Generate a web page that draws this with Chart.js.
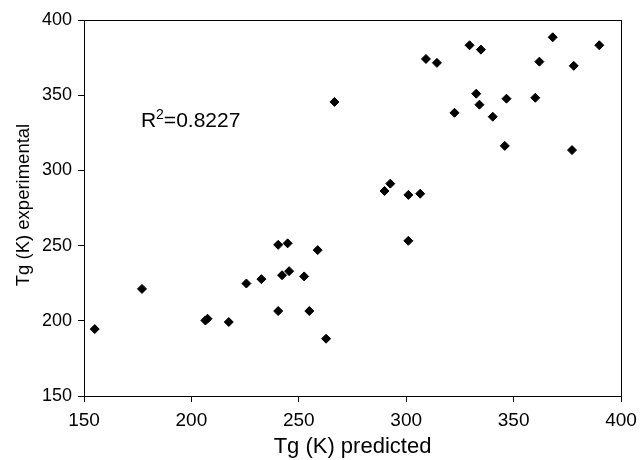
<!DOCTYPE html>
<html lang="en">
<head>
  <meta charset="UTF-8">
  <title>Tg predicted vs experimental</title>
  <script src="https://cdn.jsdelivr.net/npm/chart.js"></script>
  <style>
    html, body { margin: 0; padding: 0; background: #fff; }
    #wrap { width: 641px; height: 460px; }
  </style>
</head>
<body>
  <div id="wrap"><canvas id="grafico" width="641" height="460"></canvas></div>

  <script>
    // Tg (K) predicted
    const predicted = [
      155, 177, 206.5, 207.5, 217.4, 225.6, 232.6, 240.4, 244.8, 258.8,
      242.2, 245.5, 252.5, 240.4, 254.9, 262.7, 266.6, 368.2, 389.9, 329.5,
      334.8, 309.2, 314.3, 362.0, 378.0, 332.6, 334.1, 346.7, 360.1, 322.5,
      340.3, 345.9, 377.2, 292.6, 289.9, 301.0, 306.5, 301.0
    ];
    // Tg (K) experimental
    const experimental = [
      194.5, 221.2, 200.2, 201.4, 199.2, 224.8, 227.7, 250.5, 251.5, 247.0,
      230.3, 233.0, 229.5, 206.5, 206.5, 188.1, 345.5, 388.5, 383.2, 383.2,
      380.3, 374.1, 371.5, 372.3, 369.5, 351.0, 343.7, 347.7, 348.3, 338.3,
      335.7, 316.3, 313.5, 291.2, 286.3, 283.7, 284.5, 253.2
    ];
    const xTicks = [150, 200, 250, 300, 350, 400];
    const yTicks = [150, 200, 250, 300, 350, 400];
    const r2Text = '0.8227';
    const r2Pos = { x: 176.5, y: 329 };
    const yTitle = 'Tg (K) experimental';
    const yTitleMid = 277; // axis value at which the y title is centred

    const FONT = 'Arial, "Liberation Sans", sans-serif';

    const punti = predicted.map((x, i) => ({ x: x, y: experimental[i] }));

    // box round the plot area, y title, R² note
    const extras = {
      id: 'extras',
      afterDraw(chart) {
        const ctx = chart.ctx;
        const a = chart.chartArea;
        ctx.save();
        ctx.strokeStyle = '#000';
        ctx.lineWidth = 1;
        ctx.strokeRect(Math.round(a.left) + 0.5, Math.round(a.top) + 0.5,
          Math.round(a.right - a.left), Math.round(a.bottom - a.top));

        ctx.fillStyle = '#000';

        // y title (Excel put it a bit above the middle)
        ctx.save();
        ctx.translate(24, chart.scales.y.getPixelForValue(yTitleMid));
        ctx.rotate(-Math.PI / 2);
        ctx.font = '18.5px ' + FONT;
        ctx.textAlign = 'center';
        ctx.textBaseline = 'middle';
        ctx.fillText(yTitle, 0, 0);
        ctx.restore();

        const px = chart.scales.x.getPixelForValue(r2Pos.x);
        const py = chart.scales.y.getPixelForValue(r2Pos.y);
        ctx.textBaseline = 'alphabetic';
        ctx.textAlign = 'left';
        ctx.font = '21px ' + FONT;
        ctx.fillText('R', px, py);
        let w = ctx.measureText('R').width;
        ctx.font = '14px ' + FONT;
        ctx.fillText('2', px + w, py - 8);
        w += ctx.measureText('2').width;
        ctx.font = '21px ' + FONT;
        ctx.fillText('=' + r2Text, px + w, py);
        ctx.restore();
      }
    };

    new Chart(document.getElementById('grafico'), {
      type: 'scatter',
      data: {
        datasets: [{
          data: punti,
          pointStyle: 'rectRot',
          pointRadius: 4.5,
          pointBackgroundColor: '#000',
          pointBorderColor: '#000',
          pointBorderWidth: 1
        }]
      },
      options: {
        responsive: false,
        animation: false,
        layout: { padding: { top: 20, right: 20, left: 0, bottom: 0 } },
        plugins: { legend: { display: false }, tooltip: { enabled: false } },
        scales: {
          x: {
            type: 'linear',
            min: 150, max: 400,
            afterBuildTicks: s => { s.ticks = xTicks.map(v => ({ value: v })); },
            afterFit: s => { s.height = 64; s.paddingLeft = 0; s.paddingRight = 0; },
            grid: { drawOnChartArea: false, drawTicks: true, tickLength: 6, color: '#000' },
            border: { color: '#000', width: 1 },
            ticks: { color: '#000', font: { family: FONT, size: 19 }, padding: 7, maxRotation: 0 },
            title: {
              display: true, text: 'Tg (K) predicted', color: '#000',
              font: { family: FONT, size: 22 }, padding: { top: 0, bottom: 0 }
            }
          },
          y: {
            type: 'linear',
            min: 150, max: 400,
            afterBuildTicks: s => { s.ticks = yTicks.map(v => ({ value: v })); },
            afterFit: s => { s.width = 84; s.paddingTop = 0; s.paddingBottom = 0; },
            grid: { drawOnChartArea: false, drawTicks: true, tickLength: 6, color: '#000' },
            border: { color: '#000', width: 1 },
            ticks: { color: '#000', font: { family: FONT, size: 18 }, padding: 6 },
            title: { display: false }
          }
        }
      },
      plugins: [extras]
    });
  </script>
</body>
</html>
